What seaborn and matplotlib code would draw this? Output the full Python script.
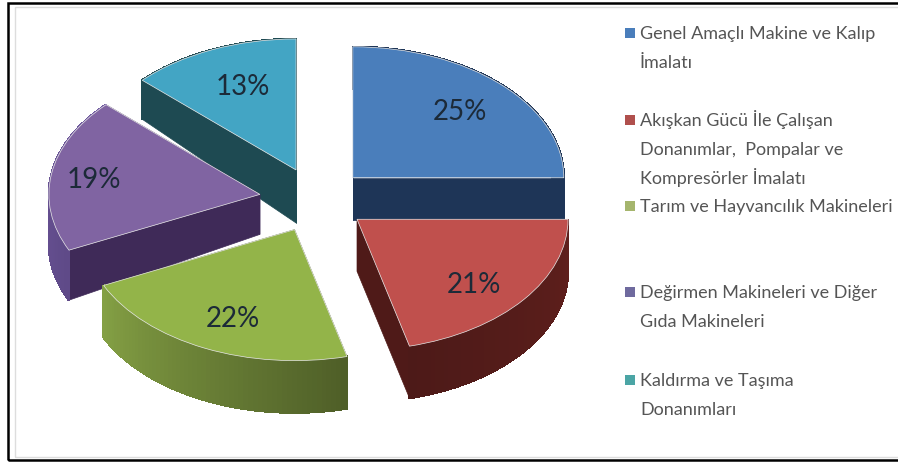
import matplotlib
matplotlib.use("Agg")
import matplotlib.pyplot as plt
import matplotlib.patches as mpatches
import numpy as np
import seaborn as sns
from matplotlib.colors import to_rgb

labels = [
    "Genel Amaçlı Makine ve Kalıp\nİmalatı",
    "Akışkan Gücü İle Çalışan\nDonanımlar,  Pompalar ve\nKompresörler İmalatı",
    "Tarım ve Hayvancılık Makineleri",
    "Değirmen Makineleri ve Diğer\nGıda Makineleri",
    "Kaldırma ve Taşıma\nDonanımları",
]
values = [25, 21, 22, 19, 13]

top_colors = ["#4a7ebb", "#c0504d", "#93b449", "#8064a2", "#43a5c4"]
face_colors = ["#1e3557", "#4f1a18", "#4f5f28", "#3f2a58", "#1e4a52"]
rim_start = ["#1e3557", "#4d1a18", "#84a044", "#7059a0", "#1e4a52"]
rim_end = ["#1e3557", "#5f1f1c", "#4f5f28", "#5f4a88", "#1e4a52"]
legend_colors = ["#4a7ebb", "#b0504d", "#a5b56d", "#6f6a9e", "#4ba5a5"]

explode = [0.24, 0.24, 0.25, 0.274, 0.25]
apex_depth = [42, 52, 52, 40, 53]
rim_depth = [42, 52, 52, 50, 39]
pct_dist = [0.72, 0.70, 0.72, 0.78, 0.65]
pct_nudge = [(0, 1), (0, 10), (3, 4), (-3, 2), (1, -5)]
draw_order = [4, 0, 3, 2, 1]

legend_y = [33, 120, 206, 292, 380]
LINE_PITCH = 29

W, H = 898, 462
CX, CY = 317, 200
RX, RY = 211, 131

sns.set_theme(style="white")
plt.rcParams["font.family"] = ["Lato", "DejaVu Sans"]

fig = plt.figure(figsize=(W / 100, H / 100), dpi=100)
ax = fig.add_axes([0, 0, 1, 1])
palette = sns.color_palette(top_colors)

wedges, _, autotexts = ax.pie(
    values,
    explode=explode,
    colors=palette,
    startangle=90,
    counterclock=False,
    autopct="%.0f%%",
    wedgeprops={"edgecolor": "#e8e8e8", "linewidth": 0.5},
    textprops={"fontsize": 20, "color": "#1c2a38"},
)
ax.set_aspect("auto")
ax.set_xlim(-CX / RX, (W - CX) / RX)
ax.set_ylim(-(H - CY) / RY, CY / RY)


def rim_point(w, ang):
    a = np.deg2rad(ang)
    return w.center[0] + w.r * np.cos(a), w.center[1] + w.r * np.sin(a)


for rank, i in enumerate(draw_order):
    w = wedges[i]
    z = 2 + rank
    w.set_zorder(z + 0.5)
    dc = apex_depth[i] / RY
    dr = rim_depth[i] / RY
    cx, cy = w.center

    # flat faces going down from the two straight edges
    for ang in (w.theta1, w.theta2):
        px, py = rim_point(w, ang)
        ax.fill([cx, px, px, cx], [cy, py, py - dr, cy - dc],
                color=face_colors[i], lw=0.5, zorder=z)

    # curved outer wall, split in strips so the colour can shade along it
    angs = np.linspace(w.theta1, w.theta2, 60)
    c0, c1 = np.array(to_rgb(rim_start[i])), np.array(to_rgb(rim_end[i]))
    for k in range(len(angs) - 1):
        x0, y0 = rim_point(w, angs[k])
        x1, y1 = rim_point(w, angs[k + 1])
        t = k / (len(angs) - 2)
        ax.fill([x0, x1, x1, x0], [y0, y1, y1 - dr, y0 - dr],
                color=c0 + (c1 - c0) * t, lw=1, antialiased=False, zorder=z + 0.1)

    # percent label
    a = np.deg2rad((w.theta1 + w.theta2) / 2)
    autotexts[i].set_position((
        cx + pct_dist[i] * np.cos(a) + pct_nudge[i][0] / RX,
        cy + pct_dist[i] * np.sin(a) - pct_nudge[i][1] / RY,
    ))
    autotexts[i].set_zorder(20)

# legend block, written by hand because the gaps are uneven
for lab, col, y in zip(labels, legend_colors, legend_y):
    for n, line in enumerate(lab.split("\n")):
        fig.text(640 / W, 1 - (y + 6 + n * LINE_PITCH) / H, line, color="#555555",
                 fontsize=13, va="baseline", ha="left")
    fig.add_artist(mpatches.Rectangle((625 / W, 1 - (y + 5) / H), 10 / W, 10 / H,
                                      transform=fig.transFigure, color=col, lw=0))

# picture frame, its right side runs off the image
fig.add_artist(mpatches.Rectangle((8 / W, 1 - 460 / H), 900 / W, 457 / H,
                                  transform=fig.transFigure, fill=False,
                                  edgecolor="black", linewidth=1.8))
fig.add_artist(mpatches.Rectangle((15 / W, 1 - 457 / H), 900 / W, 450 / H,
                                  transform=fig.transFigure, fill=False,
                                  edgecolor="#dddddd", linewidth=1))

fig.savefig("out.png", dpi=100)
